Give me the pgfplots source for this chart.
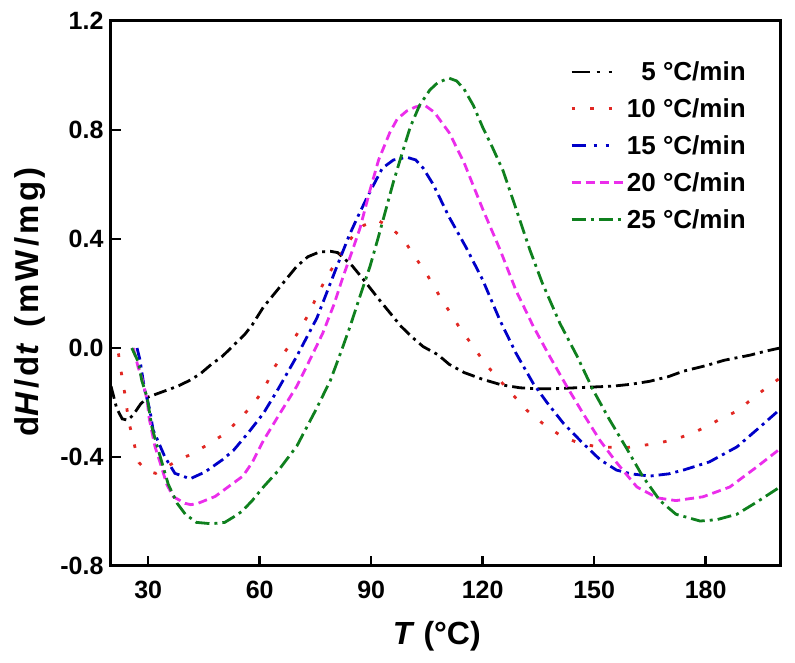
\documentclass[border=0pt]{standalone}
\usepackage{fontspec}
\setmainfont{Liberation Sans}
\usepackage{pgfplots}
\pgfplotsset{compat=1.18}
\definecolor{cred}{RGB}{225,40,35}
\definecolor{cblue}{RGB}{0,0,200}
\definecolor{cmag}{RGB}{235,45,235}
\definecolor{cgreen}{RGB}{15,128,30}
\begin{document}
\begin{tikzpicture}
\begin{axis}[
  scale only axis, width=669pt, height=545pt,
  xmin=20, xmax=200, ymin=-0.8, ymax=1.2,
  xtick={30,60,90,120,150,180},
  ytick={-0.8,-0.4,0,0.4,0.8,1.2},
  yticklabel style={/pgf/number format/fixed, /pgf/number format/fixed zerofill, /pgf/number format/precision=1, xshift=-4pt},
  /pgf/number format/assume math mode=true,
  tick label style={font=\fontsize{25}{30}\selectfont\bfseries},
  xticklabel style={yshift=-12pt},
  tick align=inside, xtick pos=bottom, ytick pos=left,
  major tick length=10pt,
  axis line style={line width=3pt},
  major tick style={line width=2.5pt, black},
  xlabel={\textbf{\textit{T} (°C)}},
  ylabel={\textbf{\addfontfeature{LetterSpace=10}d\textit{H}/d\textit{t} (mW/mg)}},
  label style={font=\fontsize{32}{38}\selectfont},
  xlabel style={at={(axis description cs:0.487,-0.128)}, anchor=center},
  ylabel style={at={(axis description cs:-0.121,0.488)}, anchor=center, font=\fontsize{33}{38}\selectfont},
  legend style={draw=none, fill=none, at={(axis description cs:0.686,0.929)}, anchor=north west,
    font=\fontsize{26}{30}\selectfont\bfseries, row sep=12.5pt, inner sep=0pt},
  legend cell align=left,
  legend image code/.code={\draw[#1] (0pt,0pt) -- (52pt,0pt);},
  every axis plot/.append style={line width=2.8pt},
]
\coordinate (sw) at (rel axis cs:0,0);

\addplot[black, dash pattern=on 13pt off 5pt on 3pt off 5pt,
  legend image code/.code={\draw[black,line width=2.8pt,dash pattern=on 18pt off 7pt on 3pt off 9pt on 3pt off 20pt] (0pt,0pt)--(52pt,0pt);}]
coordinates {
(20,-0.14) (21.5,-0.22) (23,-0.26) (24.5,-0.265) (26,-0.245) (28,-0.205) (30,-0.18) (33,-0.165) (36,-0.15) (38,-0.14) (41,-0.12) (44,-0.095) (47,-0.06) (50,-0.03) (53,0.01) (56,0.05) (58,0.085) (61,0.15) (64,0.2) (67,0.25) (70,0.30) (73,0.335) (76,0.352) (79,0.355) (81,0.35) (83,0.325) (85,0.30) (88,0.25) (90,0.215) (92,0.18) (95,0.13) (98,0.08) (101,0.04) (104,0.005) (108,-0.025) (111,-0.06) (115,-0.09) (120,-0.115) (125,-0.135) (130,-0.146) (135,-0.15) (140,-0.149) (145,-0.146) (150,-0.143) (155,-0.14) (160,-0.133) (165,-0.122) (170,-0.105) (174,-0.085) (180,-0.065) (185,-0.045) (192,-0.026) (196,-0.012) (200,0.0)
};
\addlegendentry{\hphantom{1}5 °C/min}

\addplot[cred, dash pattern=on 3.5pt off 15pt]
coordinates {
(22,-0.02) (23,-0.11) (24,-0.19) (24.6,-0.26) (26,-0.34) (27.5,-0.42) (29.5,-0.45) (32,-0.46) (34.5,-0.44) (37,-0.42) (41.5,-0.39) (46,-0.355) (50,-0.32) (54,-0.27) (58,-0.21) (61,-0.155) (64,-0.07) (67,-0.01) (70,0.05) (73,0.12) (75.4,0.19) (78,0.26) (80.8,0.32) (83,0.37) (85,0.41) (88,0.45) (91.5,0.47) (95,0.445) (98.6,0.40) (102,0.33) (105,0.27) (108,0.20) (111,0.135) (114,0.07) (117.5,0.005) (120.6,-0.056) (124.7,-0.12) (128,-0.17) (132,-0.23) (136,-0.275) (140.8,-0.32) (146,-0.35) (151.5,-0.364) (159,-0.365) (167,-0.35) (172,-0.334) (176,-0.315) (180,-0.29) (184,-0.26) (188.7,-0.23) (193,-0.18) (197,-0.14) (200,-0.11)
};
\addlegendentry{10 °C/min}

\addplot[cblue, dash pattern=on 12pt off 5pt on 3pt off 5pt,
  legend image code/.code={\draw[cblue,line width=2.8pt,dash pattern=on 14pt off 8pt on 3pt off 9pt on 3pt off 20pt] (0pt,0pt)--(52pt,0pt);}]
coordinates {
(27,0) (27.8,-0.044) (29,-0.15) (30.5,-0.23) (31.3,-0.30) (32.6,-0.34) (34.5,-0.40) (37.2,-0.46) (41.3,-0.48) (45.3,-0.455) (50,-0.41) (53,-0.375) (57,-0.31) (61,-0.24) (65,-0.15) (70,-0.03) (75.4,0.11) (80.8,0.30) (84,0.41) (86,0.47) (88.8,0.55) (93,0.66) (96,0.69) (99.6,0.70) (102,0.69) (104,0.66) (106.7,0.60) (111,0.48) (115.5,0.37) (120,0.25) (124.7,0.10) (129,-0.02) (133.6,-0.13) (137.3,-0.20) (141.7,-0.276) (147,-0.35) (151.6,-0.41) (156,-0.448) (160,-0.462) (165,-0.47) (170,-0.462) (174,-0.448) (181,-0.418) (188.4,-0.363) (194.6,-0.29) (200,-0.225)
};
\addlegendentry{15 °C/min}

\addplot[cmag, dash pattern=on 9pt off 5pt]
coordinates {
(26,0) (27.3,-0.07) (28.3,-0.11) (29.7,-0.19) (30.3,-0.26) (31.8,-0.36) (33.2,-0.42) (35,-0.50) (36.7,-0.545) (39.9,-0.57) (41.5,-0.575) (43.4,-0.57) (48,-0.545) (52.5,-0.50) (55.5,-0.47) (58,-0.42) (61,-0.34) (65,-0.25) (70,-0.14) (74,-0.03) (77,0.055) (80,0.16) (82.4,0.26) (85,0.36) (87,0.44) (89.7,0.58) (92,0.69) (95,0.79) (97,0.84) (99.6,0.87) (102,0.885) (104.5,0.89) (107,0.865) (111,0.79) (115,0.68) (120,0.51) (124.7,0.36) (129,0.21) (133.6,0.08) (138,-0.03) (142.6,-0.14) (147,-0.24) (151.6,-0.34) (156,-0.42) (161.5,-0.51) (167,-0.55) (172,-0.56) (179.3,-0.546) (186.5,-0.51) (193.8,-0.436) (200,-0.37)
};
\addlegendentry{20 °C/min}

\addplot[cgreen, dash pattern=on 14pt off 5pt on 3pt off 5pt]
coordinates {
(25.6,0) (27.3,-0.05) (28.3,-0.12) (29.7,-0.18) (31,-0.29) (32.4,-0.36) (33.7,-0.42) (35.4,-0.50) (37.8,-0.57) (40,-0.61) (43,-0.64) (47,-0.645) (50.6,-0.64) (53,-0.62) (55.2,-0.60) (58,-0.56) (61,-0.51) (65,-0.45) (70,-0.36) (75,-0.23) (79,-0.12) (82,-0.01) (84.3,0.078) (87,0.19) (89.7,0.30) (92,0.41) (94,0.51) (96,0.61) (98,0.70) (100.5,0.81) (103,0.89) (105.8,0.947) (108,0.975) (111,0.99) (113,0.98) (115,0.95) (117.5,0.89) (120,0.81) (122.5,0.74) (125.5,0.65) (129,0.51) (132.7,0.36) (136,0.24) (140.8,0.09) (145.4,-0.03) (149.7,-0.154) (154,-0.26) (158.8,-0.37) (163,-0.47) (167.7,-0.56) (172,-0.61) (178.5,-0.635) (183,-0.63) (188.4,-0.61) (193.8,-0.565) (200,-0.51)
};
\addlegendentry{25 °C/min}
\end{axis}
\pgfresetboundingbox
\path (sw) ++(-111pt,-97pt) rectangle ++(795pt,663pt);
\end{tikzpicture}
\end{document}
